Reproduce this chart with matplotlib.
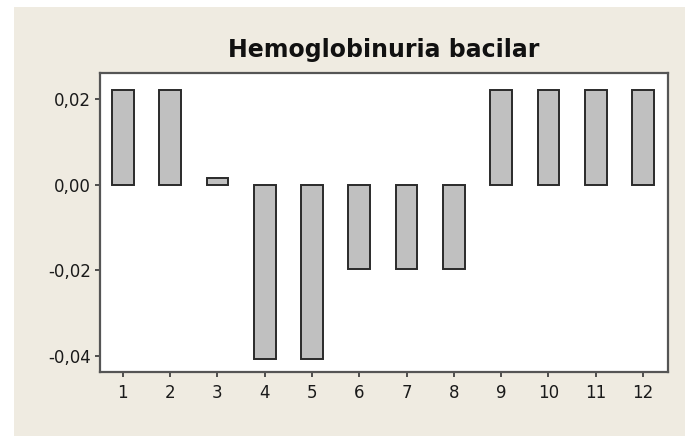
import numpy as np
import matplotlib.pyplot as plt
from matplotlib.patches import Rectangle

lags = [1, 2, 3, 4, 5, 6, 7, 8, 9, 10, 11, 12]
values = [0.0222, 0.0222, 0.0016, -0.0407, -0.0407, -0.0198,
          -0.0198, -0.0198, 0.0222, 0.0222, 0.0222, 0.0222]
ytick_vals = [0.02, 0.00, -0.02, -0.04]
ytick_labels = ['0,02', '0,00', '-0,02', '-0,04']
title = 'Hemoglobinuria bacilar'

W, H = 685, 436
fig = plt.figure(figsize=(W / 100, H / 100), dpi=100)
fig.patch.set_facecolor('white')
# beige panel behind the chart
fig.patches.append(Rectangle((14 / W, 0), 1, 1 - 7 / H, transform=fig.transFigure,
                             facecolor='#efebe1', edgecolor='none', zorder=-5))

ax = fig.add_axes([100 / W, 1 - 372 / H, 568 / W, 299 / H])
ax.set_zorder(2)
ax.set_facecolor('white')
ax.bar(lags, values, width=0.46, color='#c0c0c0', edgecolor='#2a2a2a', linewidth=1.4)

ax.set_xlim(0.515, 12.53)
ax.set_ylim(-0.0438, 0.0262)
ax.set_xticks(lags)
ax.set_xticklabels([str(v) for v in lags])
ax.set_yticks(ytick_vals)
ax.set_yticklabels(ytick_labels)
ax.tick_params(axis='both', labelsize=12, color='#333333', length=3.5, width=1.2,
               labelcolor='#1a1a1a', pad=3)
ax.tick_params(axis='x', pad=5)
for s in ax.spines.values():
    s.set_color('#555555')
    s.set_linewidth(1.6)

fig.text(384 / W, 1 - 50 / H, title, ha='center', va='center', fontsize=17,
         fontweight='bold', color='#111111')

fig.savefig('out.png', dpi=100, facecolor=fig.get_facecolor())
